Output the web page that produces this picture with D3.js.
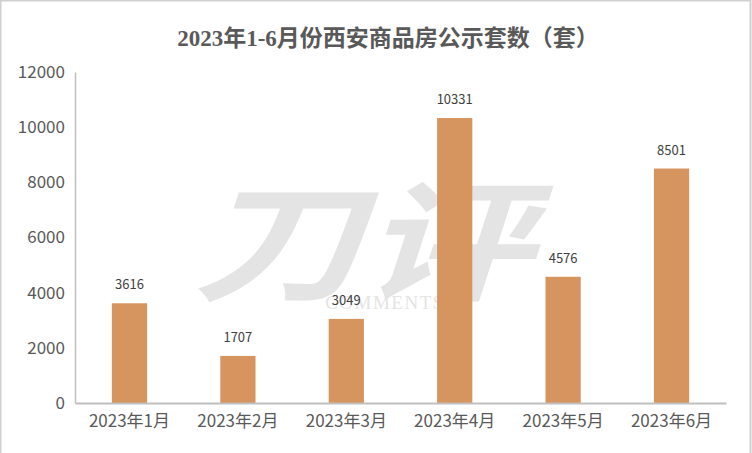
<!DOCTYPE html>
<html><head><meta charset="utf-8">
<script src="https://cdn.jsdelivr.net/npm/d3@7"></script>
<style>body{margin:0;background:#fff}svg{display:block}</style>
</head><body>
<svg id="c" width="752" height="453"></svg>
<script>
const title = "2023年1-6月份西安商品房公示套数（套）";
const categories = ["2023年1月","2023年2月","2023年3月","2023年4月","2023年5月","2023年6月"];
const values = [3616, 1707, 3049, 10331, 4576, 8501];
const yTicks = [0, 2000, 4000, 6000, 8000, 10000, 12000];

const svg = d3.select("#c");
const W = 752, H = 453;
const m = {left: 75, right: 26, top: 72, bottom: 50};

svg.append("rect").attr("x",0.5).attr("y",0.5).attr("width",W-2).attr("height",H+5)
  .attr("fill","#fff").attr("stroke","#d0d0d0").attr("stroke-width",2);

const x = d3.scaleBand().domain(categories).range([m.left, W - m.right]).paddingInner(0.675).paddingOuter(0.34);
const y = d3.scaleLinear().domain([0, 12000]).range([H - m.bottom, m.top]);

// watermark
const wm = svg.append("g").attr("fill","#e4e4e4");
wm.append("text").attr("x",0).attr("y",0).attr("text-anchor","middle")
  .attr("font-family","'Noto Sans CJK SC'").attr("font-weight","bold").attr("font-size",130)
  .attr("transform","translate(362,290) scale(1.3,1) skewX(-14)").text("刀评");
wm.append("text").attr("x",385).attr("y",309).attr("text-anchor","middle")
  .attr("font-family","'Liberation Serif'").attr("font-size",19).attr("letter-spacing",1.5).text("COMMENTS");

// title
svg.append("text").attr("x",388).attr("y",46).attr("text-anchor","middle")
  .attr("font-family","'Liberation Serif','Noto Sans CJK SC'").attr("font-weight","bold")
  .attr("font-size",23).attr("fill","#595959").text(title);

// y axis
const ya = svg.append("g").attr("transform",`translate(${m.left},0)`)
  .call(d3.axisLeft(y).tickValues(yTicks).tickFormat(d3.format("d")).tickSize(0).tickPadding(10));
ya.select(".domain").attr("stroke","#bfbfbf").attr("stroke-width",1.5);
ya.selectAll("text").attr("font-family","'Noto Sans CJK SC'").attr("font-size",17).attr("fill","#595959");

// bars
svg.append("g").selectAll("rect").data(values).join("rect")
  .attr("x",(d,i)=>x(categories[i])).attr("width",x.bandwidth())
  .attr("y",d=>y(d)).attr("height",d=>y(0)-y(d)).attr("fill","#D6955F");

// value labels
svg.append("g").selectAll("text").data(values).join("text")
  .attr("x",(d,i)=>x(categories[i])+x.bandwidth()/2).attr("y",d=>y(d)-14)
  .attr("text-anchor","middle").attr("font-family","'Noto Sans CJK SC'").attr("font-size",13)
  .attr("fill","#404040").text(d=>d);

// x axis
const xa = svg.append("g").attr("transform",`translate(0,${y(0)})`)
  .call(d3.axisBottom(x).tickSize(0).tickPadding(12).tickSizeOuter(0));
xa.select(".domain").attr("stroke","#bfbfbf").attr("stroke-width",2);
xa.selectAll("text").attr("font-family","'Noto Sans CJK SC'").attr("font-size",17).attr("fill","#595959");
</script>
</body></html>
